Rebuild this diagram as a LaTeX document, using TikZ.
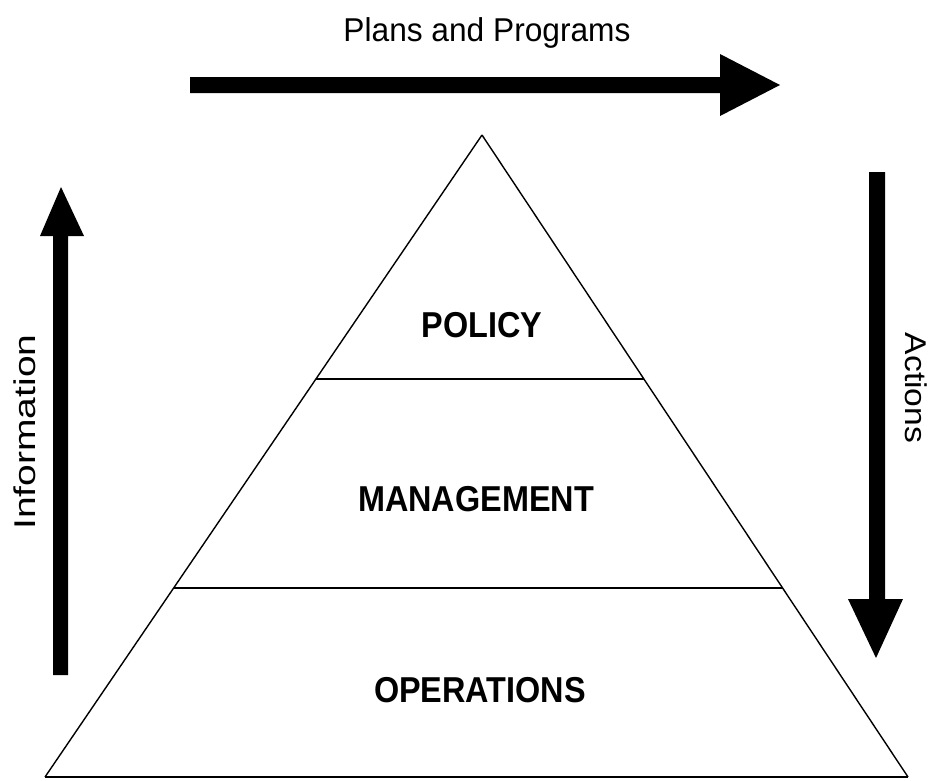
\documentclass[tikz,border=0pt]{standalone}
\usepackage{fontspec}
\setmainfont{Liberation Sans}
\usetikzlibrary{calc}
\begin{document}
\begin{tikzpicture}[x=1pt,y=-1pt,
  edge/.style={draw=black,line width=1.4pt,line join=miter},
  divider/.style={draw=black,line width=2pt},
  bigarrow/.style={fill=black},
  level/.style={font=\fontsize{36}{36}\selectfont\bfseries,inner sep=0pt,xscale=0.9},
  side/.style={font=\fontsize{30}{30}\selectfont,inner sep=0pt}]
\useasboundingbox (0,0) rectangle (937,780);
% pyramid
\coordinate (apex) at (482,135);
\coordinate (bl) at (45,777);
\coordinate (br) at (908,777);
\draw[edge] (apex) -- (bl);
\draw[edge] (apex) -- (br);
\draw[divider] (bl) -- (br);
\coordinate (l1) at ($(apex)!{(379-135)/642}!(bl)$);
\coordinate (r1) at ($(apex)!{(379-135)/642}!(br)$);
\coordinate (l2) at ($(apex)!{(588-135)/642}!(bl)$);
\coordinate (r2) at ($(apex)!{(588-135)/642}!(br)$);
\draw[divider] (l1) -- (r1);
\draw[divider] (l2) -- (r2);
\node[level] (policy) at (482,325) {POLICY};
\node[level] (mgmt) at (476,499) {MANAGEMENT};
\node[level] (ops) at (480,690) {OPERATIONS};
% top arrow
\fill[bigarrow] (190,77) -- (720,77) -- (720,54) -- (780,85) -- (720,116) -- (720,93) -- (190,93) -- cycle;
\node[side,font=\fontsize{33}{33}\selectfont,xscale=0.96,anchor=base] (plans) at (487,41) {Plans and Programs};
% left arrow
\fill[bigarrow] (53,675) -- (53,236) -- (40,236) -- (61,187) -- (84,236) -- (68,236) -- (68,675) -- cycle;
\node[side,rotate=90,xscale=1.3,anchor=base] (info) at (35,432) {Information};
% right arrow
\fill[bigarrow] (869,172) -- (885,172) -- (885,599) -- (903,599) -- (876,658) -- (848,599) -- (869,599) -- cycle;
\node[side,rotate=-90,xscale=1.12,anchor=base] (actions) at (905,388) {Actions};
\end{tikzpicture}
\end{document}
